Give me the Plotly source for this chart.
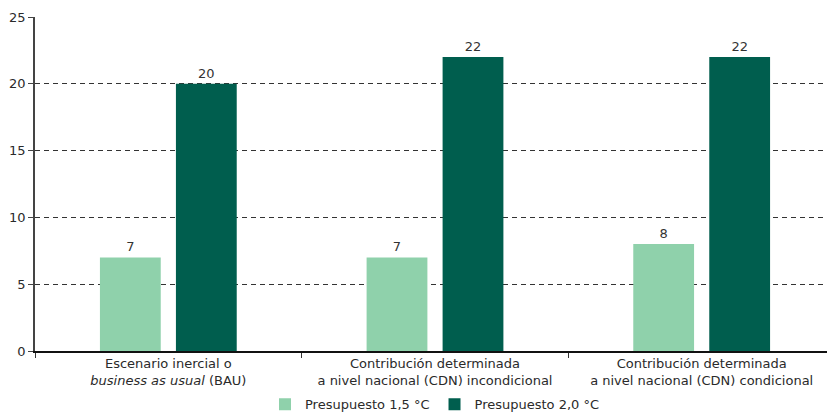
import plotly.graph_objects as go

categories = [
    "Escenario inercial o<br><i>business as usual</i> (BAU)",
    "Contribución determinada<br>a nivel nacional (CDN) incondicional",
    "Contribución determinada<br>a nivel nacional (CDN) condicional",
]
series_names = ["Presupuesto 1,5 °C", "Presupuesto 2,0 °C"]
values_15 = [7, 7, 8]
values_20 = [20, 22, 22]
y_ticks = [0, 5, 10, 15, 20, 25]

colors = ["#8fd1ab", "#005e4e"]
font = dict(family="DejaVu Sans, sans-serif", size=13, color="#2a2a2a")

fig = go.Figure()
for name, vals, col in zip(series_names, [values_15, values_20], colors):
    fig.add_trace(go.Bar(
        x=categories, y=vals, name=name, marker=dict(color=col, line=dict(width=0)),
        text=[str(v) for v in vals], textposition="outside",
        textfont=dict(family=font["family"], size=13, color="#333333"),
        cliponaxis=False,
    ))

# page body has an 8px margin, so the figure is 8px smaller and margins are shifted
fig.update_layout(
    width=827, height=405,
    margin=dict(l=27, r=0, t=9, b=62, autoexpand=False),
    paper_bgcolor="white", plot_bgcolor="white",
    font=font,
    barmode="group", bargap=0.43, bargroupgap=0.2,
    showlegend=True,
    legend=dict(orientation="h", x=0.5, xanchor="center", y=-0.115, yanchor="top",
                font=dict(size=13), itemwidth=30, traceorder="normal",
                bgcolor="rgba(0,0,0,0)"),
    xaxis=dict(
        type="category", showline=True, linecolor="#111111", linewidth=1.5,
        ticks="outside", tickson="boundaries", ticklen=5, tickcolor="#333333",
        showgrid=False, tickfont=dict(size=13), automargin=False,
    ),
    yaxis=dict(
        range=[0, 25], tickvals=y_ticks, showline=True, linecolor="#444444", linewidth=1.5,
        ticks="outside", ticklen=5, tickcolor="#444444",
        showgrid=True, gridcolor="#333333", griddash="5px,4px", gridwidth=1,
        zeroline=False, tickfont=dict(size=13), automargin=False,
    ),
)

fig.write_html("out.html")
